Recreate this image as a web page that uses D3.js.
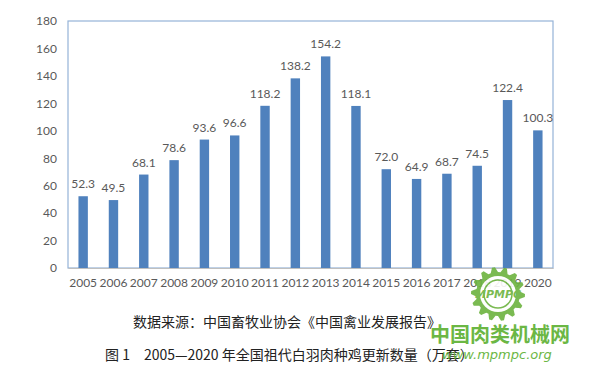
<!DOCTYPE html>
<meta charset="utf-8">
<title>祖代白羽肉种鸡更新数量</title>
<style>
body { margin: 0; background: #fff; }
svg { display: block; }
.tick text { font-family: Lato, "Open Sans", sans-serif; }
</style>
<body>
<script src="https://d3js.org/d3.v7.min.js"></script>
<script>

const years = ["2005","2006","2007","2008","2009","2010","2011","2012","2013","2014","2015","2016","2017","2018","2019","2020"];
const values = [52.3, 49.5, 68.1, 78.6, 93.6, 96.6, 118.2, 138.2, 154.2, 118.1, 72.0, 64.9, 68.7, 74.5, 122.4, 100.3];
const yTicks = [0, 20, 40, 60, 80, 100, 120, 140, 160, 180];
const sourceNote = "数据来源：中国畜牧业协会《中国禽业发展报告》";
const figTitle = "图 1　2005—2020 年全国祖代白羽肉种鸡更新数量（万套）";

const width = 600, height = 372;
const plotL = 68, plotR = 553, plotT = 21, plotB = 268;

const svg = d3.select("body").append("svg")
    .attr("width", width)
    .attr("height", height);

const x = d3.scaleBand().domain(years).range([plotL, plotR]).paddingInner(0.69).paddingOuter(0.345);
const y = d3.scaleLinear().domain([0, 180]).range([plotB, plotT]);

// plot frame
svg.append("rect")
    .attr("x", plotL).attr("y", plotT)
    .attr("width", plotR - plotL).attr("height", plotB - plotT)
    .attr("fill", "none")
    .attr("stroke", "#95b3d7")
    .attr("stroke-width", 1.2);

// y axis labels
const yAxis = svg.append("g")
    .attr("transform", `translate(${plotL},0)`)
    .call(d3.axisLeft(y).tickValues(yTicks).tickSize(0).tickPadding(11));
yAxis.select(".domain").remove();
yAxis.selectAll("text").attr("fill", "#595959").style("font-size", "12px");

// x axis
const xAxis = svg.append("g")
    .attr("transform", `translate(0,${plotB})`)
    .call(d3.axisBottom(x).tickSize(0).tickPadding(10));
xAxis.select(".domain").attr("stroke", "#bfbfbf");
xAxis.selectAll("text").attr("fill", "#595959").style("font-size", "12px");

// bars
svg.selectAll(".bar")
    .data(values)
    .enter().append("rect")
    .attr("class", "bar")
    .attr("x", (d, i) => x(years[i]))
    .attr("y", d => y(d))
    .attr("width", x.bandwidth())
    .attr("height", d => plotB - y(d))
    .attr("fill", "#4f81bd");

// value labels
svg.selectAll(".val")
    .data(values)
    .enter().append("text")
    .attr("class", "val")
    .attr("x", (d, i) => x(years[i]) + x.bandwidth() / 2)
    .attr("y", d => y(d) - 8)
    .attr("text-anchor", "middle")
    .attr("fill", "#595959")
    .style("font-family", "Lato, 'Open Sans', sans-serif")
    .style("font-size", "12px")
    .text(d => d.toFixed(1));

// captions
svg.append("text")
    .attr("x", 287).attr("y", 327)
    .attr("text-anchor", "middle")
    .attr("fill", "#222")
    .style("font-family", "'Noto Sans CJK SC', sans-serif")
    .style("font-size", "14px")
    .text(sourceNote);

svg.append("text")
    .attr("x", 105).attr("y", 360)
    .attr("fill", "#222")
    .style("font-family", "'Noto Sans CJK SC', sans-serif")
    .style("font-size", "14px")
    .text(figTitle);

// watermark
const wm = svg.append("g").attr("opacity", 0.9);
const gx = 498, gy = 294, teeth = 14;
const gearPts = d3.range(teeth * 4).map(i => {
  const a = i / (teeth * 4) * 2 * Math.PI;
  const r = (i % 4 < 2) ? 27 : 22;
  return [gx + r * Math.cos(a), gy + r * Math.sin(a)];
});
wm.append("path")
    .attr("d", d3.line()(gearPts) + "Z")
    .attr("fill", "#6cb33f");
wm.append("circle").attr("cx", gx).attr("cy", gy).attr("r", 18).attr("fill", "#fff");
wm.append("circle").attr("cx", gx).attr("cy", gy).attr("r", 14).attr("fill", "none").attr("stroke", "#6cb33f").attr("stroke-width", 1.5);
wm.append("text")
    .attr("x", gx).attr("y", gy + 4)
    .attr("text-anchor", "middle")
    .attr("fill", "#6cb33f")
    .style("font-family", "'DejaVu Sans', sans-serif")
    .style("font-style", "italic")
    .style("font-weight", "bold")
    .style("font-size", "11px")
    .text("MPMPC");
wm.append("text")
    .attr("x", 430).attr("y", 342)
    .attr("fill", "#5cb030")
    .style("font-family", "'Noto Sans CJK SC', sans-serif")
    .style("font-size", "20px")
    .style("font-weight", "bold")
    .text("中国肉类机械网");
wm.append("text")
    .attr("x", 442).attr("y", 359)
    .attr("fill", "#5cb030")
    .style("font-family", "'DejaVu Sans', sans-serif")
    .style("font-style", "italic")
    .style("font-size", "13px")
    .text("www.mpmpc.org");

</script>
</body>
